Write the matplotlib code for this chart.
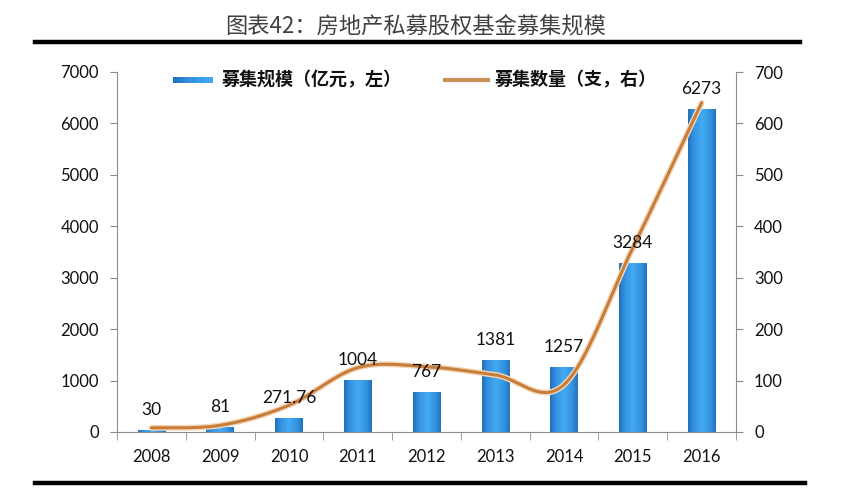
import numpy as np
import matplotlib
matplotlib.use("Agg")
import matplotlib.pyplot as plt
from matplotlib.lines import Line2D
from matplotlib.colors import LinearSegmentedColormap

# data
years = ["2008", "2009", "2010", "2011", "2012", "2013", "2014", "2015", "2016"]
amount = [30, 81, 271.76, 1004, 767, 1381, 1257, 3284, 6273]   # 亿元, left axis
amount_labels = ["30", "81", "271.76", "1004", "767", "1381", "1257", "3284", "6273"]
count = [8, 13, 52, 125, 127, 111, 92, 358, 640]                # 支, right axis

title = "图表42：房地产私募股权基金募集规模"
legend_bar = "募集规模（亿元，左）"
legend_line = "募集数量（支，右）"

CJK = ["Noto Sans CJK SC", "DejaVu Sans"]
NUM = ["Lato", "DejaVu Sans"]
LINE_C = "#c97d3a"
SPINE_C = "#8c8c8c"

bar_cmap = LinearSegmentedColormap.from_list(
    "barblue", [(0.0, "#2170bd"), (0.2, "#3592e0"), (0.5, "#44aaf3"),
                (0.8, "#3393df"), (1.0, "#2372bc")])
grad = np.linspace(0, 1, 64)[None, :]


def smooth(xs, ys, n=40):
    # excel-like bezier smoothing of the series
    P = np.column_stack([xs, ys]).astype(float)
    out = []
    for i in range(len(P) - 1):
        p0 = P[i - 1] if i > 0 else P[i]
        p1, p2 = P[i], P[i + 1]
        p3 = P[i + 2] if i + 2 < len(P) else P[i + 1]
        c1 = p1 + (p2 - p0) / 6
        c2 = p2 - (p3 - p1) / 6
        t = np.linspace(0, 1, n)[:, None]
        seg = (1 - t) ** 3 * p1 + 3 * (1 - t) ** 2 * t * c1 + 3 * (1 - t) * t ** 2 * c2 + t ** 3 * p2
        out.append(seg if i == 0 else seg[1:])
    return np.vstack(out)


W, H = 861, 488
fig = plt.figure(figsize=(W / 100, H / 100), dpi=100)
ax = fig.add_axes([117 / W, (H - 432) / H, (736 - 117) / W, 360 / H])

x = np.arange(len(years))
bw = 0.4
for xi, v in zip(x, amount):
    ax.imshow(grad, cmap=bar_cmap, aspect="auto", extent=[xi - bw / 2, xi + bw / 2, 0, v],
              interpolation="bicubic", zorder=2)

ax.set_xlim(-0.5, len(years) - 0.5)
ax.set_ylim(0, 7000)
ax.set_yticks(np.arange(0, 7001, 1000))
ax.set_xticks(x)
ax.set_xticklabels(years)
ax.set_xticks(np.arange(-0.5, len(years), 1), minor=True)
ax.tick_params(axis="x", which="major", length=0, pad=12, labelsize=12, labelcolor="#111111")
ax.tick_params(axis="x", which="minor", length=6, color=SPINE_C, direction="out")
ax.tick_params(axis="y", length=5, color=SPINE_C, pad=8, labelsize=12, labelcolor="#111111")
for lab in ax.get_xticklabels() + ax.get_yticklabels():
    lab.set_family(NUM)
for s in ["top", "right"]:
    ax.spines[s].set_visible(False)
for s in ["left", "bottom"]:
    ax.spines[s].set_color(SPINE_C)

ax2 = ax.twinx()
ax2.set_ylim(0, 700)
ax2.set_yticks(np.arange(0, 701, 100))
ax2.tick_params(axis="y", length=5, color=SPINE_C, pad=8, labelsize=12, labelcolor="#111111")
for lab in ax2.get_yticklabels():
    lab.set_family(NUM)
for s in ["top", "left", "bottom"]:
    ax2.spines[s].set_visible(False)
ax2.spines["right"].set_color(SPINE_C)

curve = smooth(x, count)
ax2.plot(curve[:, 0], curve[:, 1], color="#f3d6b8", lw=4.2, solid_capstyle="round", zorder=3)
ax2.plot(curve[:, 0], curve[:, 1], color=LINE_C, lw=2.2, solid_capstyle="round", zorder=4)

# data labels sit over the line
for xi, v, lab in zip(x, amount, amount_labels):
    ax2.annotate(lab, (xi, v), xycoords=ax.transData, xytext=(0, 9), textcoords="offset points",
                 ha="center", va="bottom", fontsize=12.5, family=NUM, color="#111111", zorder=6)

# title and rules
fig.text(416 / W, 1 - 27 / H, title, ha="center", va="center", fontsize=16,
         family=CJK, weight="light", color="#404040")
fig.add_artist(Line2D([35 / W, 800 / W], [1 - 41.5 / H] * 2, lw=3.2, color="black"))
fig.add_artist(Line2D([35 / W, 805 / W], [1 - 483 / H] * 2, lw=3.2, color="black"))

# legend
lax = fig.add_axes([173 / W, 1 - 83 / H, 40 / W, 6 / H])
lax.imshow(np.linspace(0, 1, 64)[None, :] * 0.5, cmap=bar_cmap, aspect="auto", vmin=0, vmax=1)
lax.axis("off")
fig.text(222 / W, 1 - 80 / H, legend_bar, ha="left", va="center", fontsize=13,
         family=CJK, weight="bold", color="#111111")
fig.add_artist(Line2D([445 / W, 488 / W], [1 - 80 / H] * 2, lw=3, color="#c98f5a"))
fig.text(495 / W, 1 - 80 / H, legend_line, ha="left", va="center", fontsize=13,
         family=CJK, weight="bold", color="#111111")

fig.savefig("out.png", dpi=100)
